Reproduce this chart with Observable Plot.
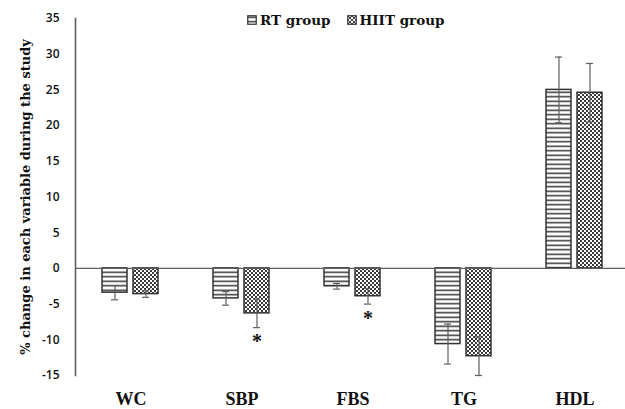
<!DOCTYPE html>
<html>
<head>
<meta charset="utf-8">
<script src="https://cdn.jsdelivr.net/npm/d3@7"></script>
<script src="https://cdn.jsdelivr.net/npm/@observablehq/plot@0.6"></script>
<style>
  html, body { margin: 0; padding: 0; background: #fff; }
  #wrap { position: relative; width: 625px; height: 409px; overflow: hidden; }
  #legend { position: absolute; top: 12px; left: 247px; display: flex; align-items: center;
    font-family: "DejaVu Serif", serif; font-weight: bold; font-size: 13.5px; color: #111; white-space: nowrap; }
  #legend .item { display: flex; align-items: center; }
  #legend svg { display: block; margin-right: 3px; }
  #chart svg [aria-label="y-axis tick label"] text { font-family: "Open Sans", sans-serif; font-weight: 600; font-size: 12px; fill: #111; }
  #chart svg [aria-label="fx-axis tick label"] text { font-family: "Liberation Serif", serif; font-weight: bold; font-size: 18px; fill: #111; }
  #chart svg [aria-label="y-axis label"] text { font-family: "DejaVu Serif", serif; font-weight: bold; font-size: 13px; fill: #111; }
</style>
</head>
<body>
<div id="wrap">
  <div id="chart"></div>
  <div id="legend"></div>
</div>
<script>
const categories = ["WC", "SBP", "FBS", "TG", "HDL"];
const groups = ["RT group", "HIIT group"];
const rtValues = [-3.4, -4.2, -2.5, -10.6, 25.0];
const rtErrors = [1.0, 0.95, 0.4, 2.8, 4.6];
const hiitValues = [-3.6, -6.3, -3.9, -12.3, 24.6];
const hiitErrors = [0.45, 2.0, 1.1, 2.7, 4.1];
const hiitSignificant = [false, true, true, false, false];
const yTicks = [-15, -10, -5, 0, 5, 10, 15, 20, 25, 30, 35];
const yLabel = "% change in each variable during the study";

const data = categories.flatMap((c, i) => [
  {category: c, group: groups[0], value: rtValues[i], error: rtErrors[i], sig: false},
  {category: c, group: groups[1], value: hiitValues[i], error: hiitErrors[i], sig: hiitSignificant[i]}
]);

const patternIds = ["rtPattern", "hiitPattern"];
const ink = "#333";
const axisGray = "#5f5f5f";

const plot = Plot.plot({
  width: 625,
  height: 409,
  marginLeft: 75,
  marginRight: -5,
  marginTop: 18,
  marginBottom: 34,
  fx: {domain: categories, padding: 0, label: null},
  x: {domain: groups, paddingInner: 0.19, paddingOuter: 0.857, axis: null},
  y: {domain: [-15, 35], axis: null},
  color: {domain: groups, range: patternIds.map(id => `url(#${id})`)},
  marks: [
    Plot.axisY({ticks: yTicks, tickSize: 0, tickPadding: 16, tickFormat: d => String(d),
      label: yLabel, labelAnchor: "center", labelArrow: false, labelOffset: 55}),
    Plot.axisFx({anchor: "bottom", tickSize: 0, tickPadding: 17, label: null}),
    Plot.barY(data, {fx: "category", x: "group", y: "value", fill: "group", stroke: ink, strokeWidth: 1.5}),
    Plot.ruleY([0], {stroke: axisGray, strokeWidth: 1.2}),
    Plot.frame({anchor: "left", facetAnchor: "left", stroke: axisGray, strokeWidth: 1.6}),
    Plot.ruleX(data, {fx: "category", x: "group", y1: d => d.value - d.error, y2: d => d.value + d.error, stroke: axisGray, strokeWidth: 1.2}),
    Plot.tickY(data, {fx: "category", x: "group", y: d => d.value - d.error, insetLeft: 9, insetRight: 9, stroke: axisGray, strokeWidth: 1.2}),
    Plot.tickY(data, {fx: "category", x: "group", y: d => d.value + d.error, insetLeft: 9, insetRight: 9, stroke: axisGray, strokeWidth: 1.2}),
    Plot.text(data.filter(d => d.sig), {fx: "category", x: "group", y: d => d.value - d.error, text: () => "*",
      dy: 14, fontSize: 20, fontWeight: "bold", fontFamily: "Liberation Serif", fill: "#111"})
  ]
});

function addPatterns(svgNode) {
  const defs = d3.select(svgNode).insert("defs", ":first-child");
  const rt = defs.append("pattern").attr("id", "rtPattern").attr("patternUnits", "userSpaceOnUse")
    .attr("width", 8).attr("height", 4.5);
  rt.append("rect").attr("width", 8).attr("height", 4.5).attr("fill", "#fff");
  rt.append("rect").attr("y", 1.5).attr("width", 8).attr("height", 1.5).attr("fill", "#333");
  const hi = defs.append("pattern").attr("id", "hiitPattern").attr("patternUnits", "userSpaceOnUse")
    .attr("width", 4).attr("height", 4);
  hi.append("rect").attr("width", 4).attr("height", 4).attr("fill", "#fff");
  hi.append("rect").attr("width", 2).attr("height", 2).attr("fill", "#3a3a3a");
  hi.append("rect").attr("x", 2).attr("y", 2).attr("width", 2).attr("height", 2).attr("fill", "#3a3a3a");
}
addPatterns(plot);
document.getElementById("chart").appendChild(plot);

// legend
const legend = d3.select("#legend");
groups.forEach((g, i) => {
  const item = legend.append("div").attr("class", "item").style("margin-right", i === 0 ? "16px" : "0");
  const sw = item.append("svg").attr("width", 10).attr("height", 10);
  sw.append("rect").attr("x", 0.75).attr("y", 0.75).attr("width", 8.5).attr("height", 8.5)
    .attr("fill", `url(#${patternIds[i]})`).attr("stroke", ink).attr("stroke-width", 1.2);
  item.append("span").text(g);
});
</script>
</body>
</html>
